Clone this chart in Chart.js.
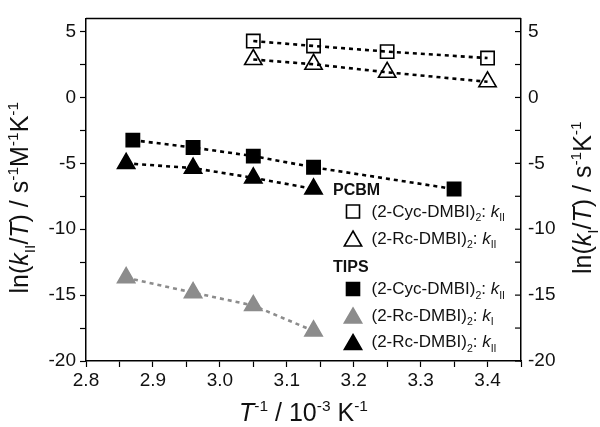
<!DOCTYPE html>
<html>
<head>
  <script src="https://cdn.jsdelivr.net/npm/chart.js"></script>
  <title>Arrhenius plot</title>
  <style>
    html, body { margin: 0; padding: 0; background: #fff; }
    #wrap { width: 600px; height: 427px; position: relative; }
  </style>
</head>
<body>
  <div id="wrap"><canvas id="chart"></canvas></div>

  <script>
    // values (x in 1e-3 K^-1, y = ln(k/T))
    const pcbmCycX = [3.05, 3.14, 3.25, 3.40];
    const pcbmCycY = [4.28, 3.91, 3.48, 2.99];
    const pcbmRcX = [3.05, 3.14, 3.25, 3.40];
    const pcbmRcY = [2.88, 2.52, 1.91, 1.19];
    const tipsCycX = [2.87, 2.96, 3.05, 3.14, 3.35];
    const tipsCycY = [-3.24, -3.80, -4.45, -5.30, -6.95];
    const tipsRcIX = [2.86, 2.96, 3.05, 3.14];
    const tipsRcIY = [-13.68, -14.81, -15.79, -17.72];
    const tipsRcIIX = [2.86, 2.96, 3.05, 3.14];
    const tipsRcIIY = [-5.00, -5.36, -6.10, -6.94];

    // major ticks carry labels, minor ticks sit halfway between
    const xTickValues = [2.8, 2.85, 2.9, 2.95, 3.0, 3.05, 3.1, 3.15, 3.2, 3.25, 3.3, 3.35, 3.4, 3.45];
    const xTickLabels = ['2.8', '', '2.9', '', '3.0', '', '3.1', '', '3.2', '', '3.3', '', '3.4', ''];
    const yTickValues = [-20, -17.5, -15, -12.5, -10, -7.5, -5, -2.5, 0, 2.5, 5];
    const yTickLabels = ['-20', '', '-15', '', '-10', '', '-5', '', '0', '', '5'];

    const FONT = '"Liberation Sans", Arial, sans-serif';
    const INK = '#111';
    const GRAY = '#8c8c8c';

    function pts(xs, ys) {
      return xs.map((x, i) => ({ x: x, y: ys[i] }));
    }

    function series(label, xs, ys, style, fill, stroke, r, lineColor) {
      return {
        label: label,
        data: pts(xs, ys),
        showLine: true,
        borderColor: lineColor,
        borderWidth: 2.6,
        borderDash: [4, 4],
        pointStyle: style,
        pointRadius: r,
        pointHoverRadius: r,
        pointBackgroundColor: fill,
        pointBorderColor: stroke,
        pointBorderWidth: 1.6
      };
    }

    function labelFor(values, labels) {
      return v => {
        const i = values.findIndex(t => Math.abs(t - v) < 1e-6);
        return i < 0 ? '' : labels[i];
      };
    }

    // rich text: list of segments {t, i (italic), b (bold), sub, sup}
    function segFont(s, size) {
      let sz = size;
      if (s.sub || s.sup) sz = size * 0.62;
      return (s.i ? 'italic ' : '') + (s.b ? 'bold ' : '') + sz + 'px ' + FONT;
    }
    function richWidth(ctx, segs, size) {
      let w = 0;
      segs.forEach(s => { ctx.font = segFont(s, size); w += ctx.measureText(s.t).width; });
      return w;
    }
    function drawRich(ctx, segs, x, y, size, align) {
      let cx = x;
      if (align === 'center') cx = x - richWidth(ctx, segs, size) / 2;
      ctx.textBaseline = 'alphabetic';
      ctx.textAlign = 'left';
      segs.forEach(s => {
        ctx.font = segFont(s, size);
        let dy = 0;
        if (s.sub) dy = size * 0.28;
        if (s.sup) dy = -size * 0.42;
        ctx.fillText(s.t, cx, y + dy);
        cx += ctx.measureText(s.t).width;
      });
    }

    function marker(ctx, style, x, y, r, fill, stroke) {
      ctx.save();
      ctx.beginPath();
      if (style === 'rect') {
        const s = r * Math.SQRT1_2;
        ctx.rect(x - s, y - s, 2 * s, 2 * s);
      } else {
        for (let k = 0; k < 3; k++) {
          const a = k * 2 * Math.PI / 3;
          const px = x + Math.sin(a) * r, py = y - Math.cos(a) * r;
          if (k === 0) ctx.moveTo(px, py); else ctx.lineTo(px, py);
        }
        ctx.closePath();
      }
      ctx.fillStyle = fill;
      ctx.fill();
      ctx.lineWidth = 1.6;
      ctx.strokeStyle = stroke;
      ctx.stroke();
      ctx.restore();
    }

    const legendGroups = ['PCBM', 'TIPS'];
    const legendRows = [
      { name: '(2-Cyc-DMBI)', k: 'II', style: 'rect', fill: 'rgba(0,0,0,0)', stroke: '#000' },
      { name: '(2-Rc-DMBI)', k: 'II', style: 'triangle', fill: 'rgba(0,0,0,0)', stroke: '#000' },
      { name: '(2-Cyc-DMBI)', k: 'II', style: 'rect', fill: '#000', stroke: '#000' },
      { name: '(2-Rc-DMBI)', k: 'I', style: 'triangle', fill: GRAY, stroke: GRAY },
      { name: '(2-Rc-DMBI)', k: 'II', style: 'triangle', fill: '#000', stroke: '#000' }
    ];

    const decorations = {
      id: 'decorations',
      afterDraw(chart) {
        const ctx = chart.ctx;
        const a = chart.chartArea;
        const y2 = chart.scales.y2;
        ctx.save();
        ctx.strokeStyle = '#000';
        ctx.lineWidth = 1.5;
        // top frame line
        ctx.beginPath();
        ctx.moveTo(a.left, a.top);
        ctx.lineTo(a.right, a.top);
        ctx.stroke();
        // inward ticks on the right axis
        ctx.lineWidth = 1.2;
        y2.ticks.forEach(t => {
          const py = y2.getPixelForValue(t.value);
          ctx.beginPath();
          ctx.moveTo(a.right - 6, py);
          ctx.lineTo(a.right, py);
          ctx.stroke();
        });

        ctx.fillStyle = INK;
        // axis titles
        const T = 25;
        drawRich(ctx, [{ t: 'T', i: true }, { t: '-1', sup: true }, { t: ' / 10' }, { t: '-3', sup: true }, { t: ' K' }, { t: '-1', sup: true }],
          (a.left + a.right) / 2, 421, T, 'center');

        ctx.save();
        ctx.translate(28, (a.top + a.bottom) / 2 + 8);
        ctx.rotate(-Math.PI / 2);
        drawRich(ctx, [{ t: 'ln(' }, { t: 'k', i: true }, { t: 'II', sub: true }, { t: '/' }, { t: 'T', i: true },
          { t: ') / s' }, { t: '-1', sup: true }, { t: 'M' }, { t: '-1', sup: true }, { t: 'K' }, { t: '-1', sup: true }],
          0, 0, T, 'center');
        ctx.restore();

        ctx.save();
        ctx.translate(591, (a.top + a.bottom) / 2 + 8);
        ctx.rotate(-Math.PI / 2);
        drawRich(ctx, [{ t: 'ln(' }, { t: 'k', i: true }, { t: 'I', sub: true }, { t: '/' }, { t: 'T', i: true },
          { t: ') / s' }, { t: '-1', sup: true }, { t: 'K' }, { t: '-1', sup: true }],
          0, 0, T, 'center');
        ctx.restore();

        // legend
        const groupY = [195, 272];
        legendGroups.forEach((g, i) => {
          ctx.font = 'bold 16px ' + FONT;
          ctx.textAlign = 'left';
          ctx.fillText(g, 333, groupY[i]);
        });
        const rowY = [216.5, 243.5, 294, 320.5, 347];
        legendRows.forEach((r, i) => {
          const my = rowY[i] - 5;
          if (r.style === 'rect') marker(ctx, 'rect', 353, my, 9.2, r.fill, r.stroke);
          else marker(ctx, 'triangle', 353, my + 2.5, 10, r.fill, r.stroke);
          ctx.fillStyle = INK;
          drawRich(ctx, [{ t: r.name }, { t: '2', sub: true }, { t: ': ' }, { t: 'k', i: true }, { t: r.k, sub: true }],
            371.5, rowY[i], 17, 'left');
        });
        ctx.restore();
      }
    };

    const tickFont = { family: FONT, size: 19 };
    const setTicks = values => s => { s.ticks = values.map(v => ({ value: v })); };

    const ctx = document.getElementById('chart').getContext('2d');
    new Chart(ctx, {
      type: 'scatter',
      data: {
        datasets: [
          series('PCBM (2-Cyc-DMBI)2: kII', pcbmCycX, pcbmCycY, 'rect', 'rgba(0,0,0,0)', '#000', 9.4, '#000'),
          series('PCBM (2-Rc-DMBI)2: kII', pcbmRcX, pcbmRcY, 'triangle', 'rgba(0,0,0,0)', '#000', 10, '#000'),
          series('TIPS (2-Cyc-DMBI)2: kII', tipsCycX, tipsCycY, 'rect', '#000', '#000', 9.4, '#000'),
          series('TIPS (2-Rc-DMBI)2: kI', tipsRcIX, tipsRcIY, 'triangle', GRAY, GRAY, 10, GRAY),
          series('TIPS (2-Rc-DMBI)2: kII', tipsRcIIX, tipsRcIIY, 'triangle', '#000', '#000', 10, '#000')
        ]
      },
      options: {
        responsive: true,
        maintainAspectRatio: false,
        animation: false,
        layout: { padding: { top: 5, left: 0, right: 0, bottom: 0 } },
        plugins: { legend: { display: false }, tooltip: { enabled: false } },
        scales: {
          x: {
            type: 'linear',
            position: 'bottom',
            min: 2.8,
            max: 3.45,
            afterFit: s => { s.height = 66; },
            afterBuildTicks: setTicks(xTickValues),
            ticks: {
              color: INK,
              font: tickFont,
              padding: 2,
              maxRotation: 0,
              autoSkip: false,
              callback: labelFor(xTickValues, xTickLabels)
            },
            grid: { drawOnChartArea: false, tickLength: 6, color: '#000', tickWidth: 1.2 },
            border: { color: '#000', width: 1.5 }
          },
          y: {
            position: 'left',
            min: -20,
            max: 6,
            afterFit: s => { s.width = 86; },
            afterBuildTicks: setTicks(yTickValues),
            ticks: {
              color: INK,
              font: tickFont,
              padding: 4,
              autoSkip: false,
              callback: labelFor(yTickValues, yTickLabels)
            },
            grid: { drawOnChartArea: false, tickLength: 6, color: '#000', tickWidth: 1.2 },
            border: { color: '#000', width: 1.5 }
          },
          y2: {
            position: 'right',
            min: -20,
            max: 6,
            afterFit: s => { s.width = 79; },
            afterBuildTicks: setTicks(yTickValues),
            ticks: {
              color: INK,
              font: tickFont,
              padding: 7,
              autoSkip: false,
              callback: labelFor(yTickValues, yTickLabels)
            },
            grid: { drawOnChartArea: false, drawTicks: false, color: '#000' },
            border: { color: '#000', width: 1.5 }
          }
        }
      },
      plugins: [decorations]
    });
  </script>
</body>
</html>
